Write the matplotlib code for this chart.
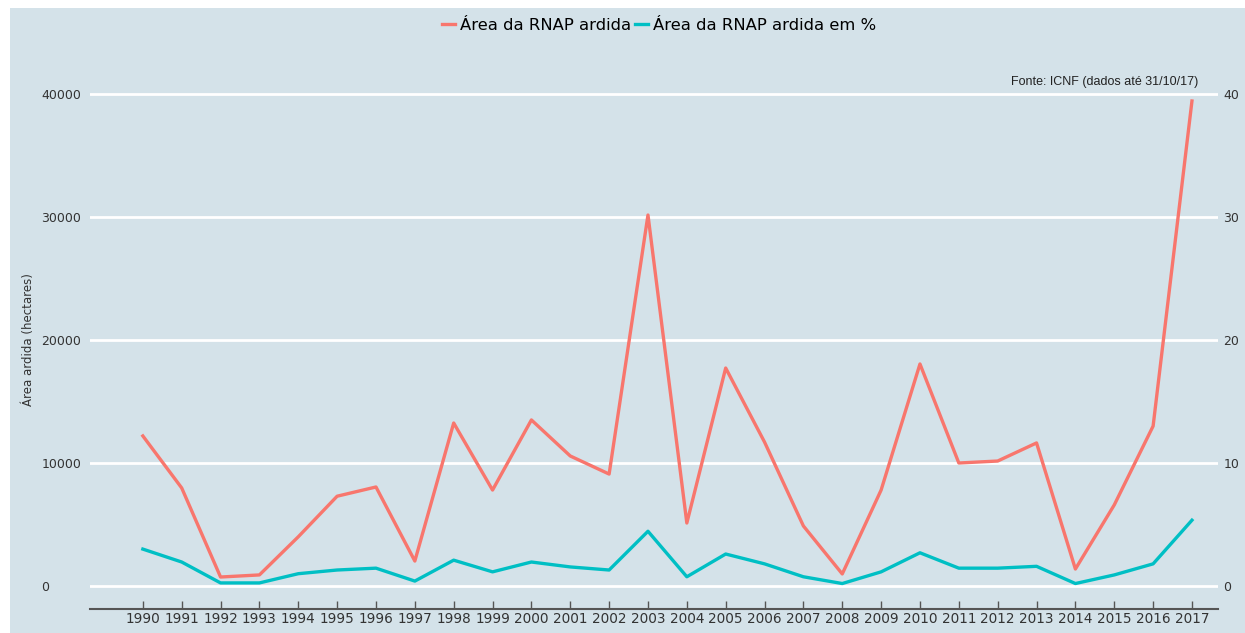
import matplotlib.pyplot as plt
import matplotlib.patches as mpatches

# Data
anos = list(range(1990, 2018))
area_ardida = [12200, 7970, 730, 900, 4000, 7300, 8050, 2030, 13250, 7800,
               13500, 10570, 9100, 30160, 5120, 17720, 11700, 4880, 980, 7800,
               18050, 10000, 10160, 11630, 1380, 6590, 13000, 39430]
area_ardida_pct = [3.0, 1.95, 0.25, 0.25, 1.0, 1.3, 1.45, 0.4, 2.1, 1.15,
                   1.95, 1.55, 1.3, 4.45, 0.75, 2.6, 1.8, 0.75, 0.2, 1.15,
                   2.7, 1.45, 1.45, 1.6, 0.2, 0.9, 1.8, 5.35]
y_ticks = [0, 10000, 20000, 30000, 40000]
y2_ticks = [0, 10, 20, 30, 40]

bg = '#d4e2e9'
red = '#F8766D'
teal = '#00BFC4'
narrow = ['Liberation Sans', 'DejaVu Sans']

fig = plt.figure(figsize=(12.45, 6.33), dpi=100, facecolor=bg)
# thin white border on the left and top, as in the reference
fig.patches.append(mpatches.Rectangle((0, 0), 10 / 1245, 1, transform=fig.transFigure,
                                      facecolor='white', edgecolor='none', zorder=-1))
fig.patches.append(mpatches.Rectangle((0, 1 - 8 / 633), 1, 8 / 633, transform=fig.transFigure,
                                      facecolor='white', edgecolor='none', zorder=-1))

ax = fig.add_axes([90 / 1245, 1 - 609 / 633, 1128 / 1245, 539 / 633])
ax.set_facecolor(bg)
ax.set_xlim(1988.64, 2017.67)
ax.set_ylim(-1870, 41950)

for spine in ['top', 'right', 'left']:
    ax.spines[spine].set_visible(False)
ax.spines['bottom'].set_color('#555555')
ax.spines['bottom'].set_linewidth(1.5)

ax.set_yticks(y_ticks)
ax.set_yticklabels([str(v) for v in y_ticks])
ax.tick_params(axis='y', length=0, pad=35, labelsize=9, labelcolor='#333333')
for lbl in ax.get_yticklabels():
    lbl.set_horizontalalignment('left')
ax.set_xticks(anos)
ax.set_xticklabels([str(a) for a in anos])
ax.tick_params(axis='x', direction='in', length=6, width=1, color='#555555', pad=2.5,
               labelsize=9.8, labelcolor='#333333')
ax.grid(axis='y', color='white', linewidth=2)
ax.set_axisbelow(True)

ax2 = ax.twinx()
ax2.set_ylim(-1.87, 41.95)
for spine in ax2.spines.values():
    spine.set_visible(False)
ax2.set_yticks(y2_ticks)
ax2.set_yticklabels([str(v) for v in y2_ticks])
ax2.tick_params(axis='y', length=0, pad=4, labelsize=9, labelcolor='#333333')

l1, = ax.plot(anos, area_ardida, color=red, linewidth=2.4, label='Área da RNAP ardida')
l2, = ax.plot(anos, [v * 1000 for v in area_ardida_pct], color=teal, linewidth=2.4,
              label='Área da RNAP ardida em %')

ax.set_ylabel('Área ardida (hectares)', fontsize=8.5, color='#333333')
ax.yaxis.set_label_coords(-55 / 1128, 0.5)
ax.set_xlabel('Ano', fontsize=9, color='#333333')
ax.xaxis.set_label_coords(0.5, -36 / 539)
ax2.set_ylabel('%', fontsize=8, color='#333333', rotation=270)
ax2.yaxis.set_label_coords(1 + 33 / 1128, 0.52)

fig.text(1198 / 1245, 1 - 82 / 633, 'Fonte: ICNF (dados até 31/10/17)',
         ha='right', va='center', fontsize=9, family=narrow, color='#222222')

fig.legend(handles=[l1, l2], loc='center', bbox_to_anchor=(659 / 1245, 1 - 25 / 633),
           ncol=2, frameon=False, handlelength=0.8, handletextpad=0.3,
           columnspacing=0.25, prop={'family': 'DejaVu Sans', 'size': 11.8})

plt.savefig('out.png', dpi=100, facecolor=bg)
